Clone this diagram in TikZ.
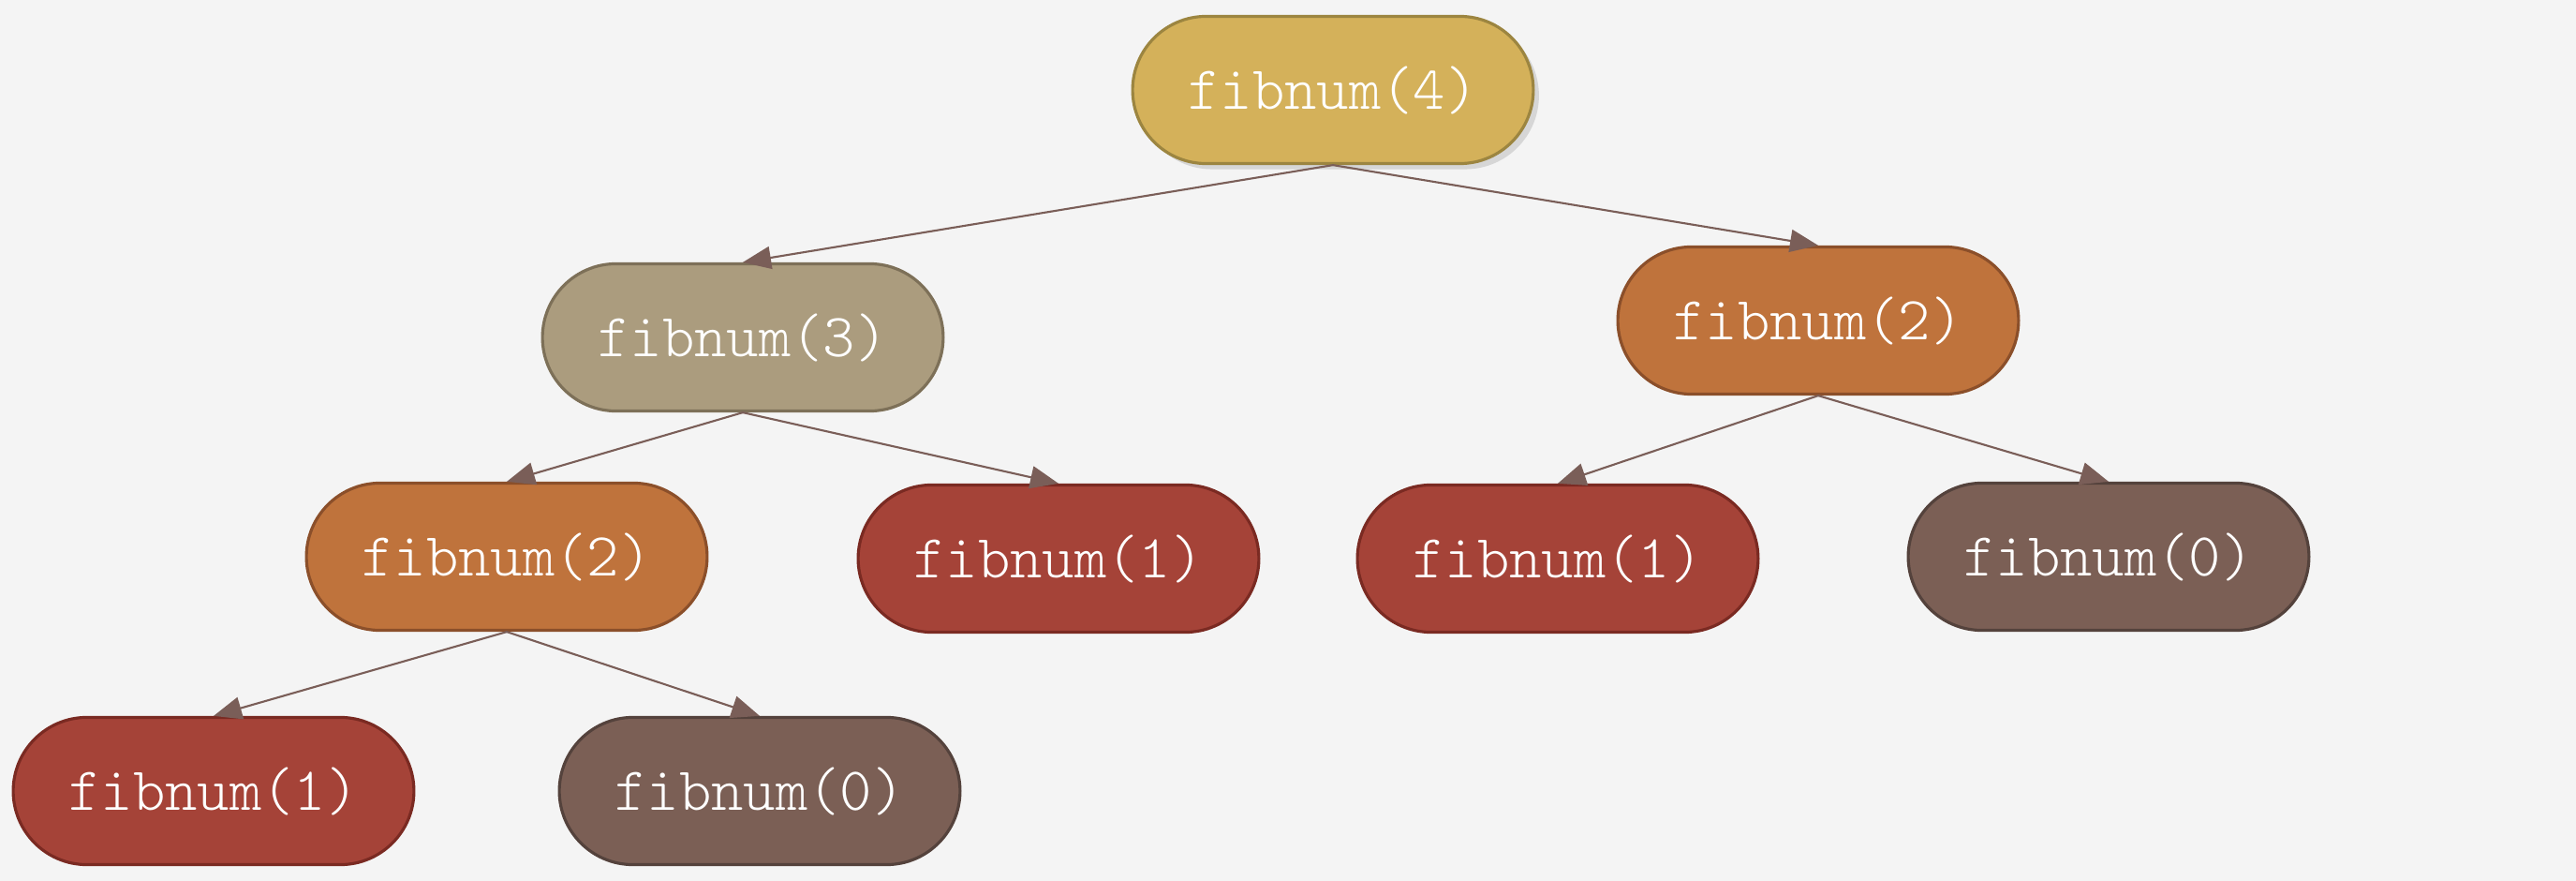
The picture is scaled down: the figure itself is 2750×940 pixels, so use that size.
\documentclass[tikz,border=0pt]{standalone}
\usepackage{fontspec}
\setmonofont{Latin Modern Mono Light}
\usepackage{tikz}
\usetikzlibrary{shapes.misc,arrows.meta,shadows,positioning}
\definecolor{bgc}{HTML}{F4F4F4}
\definecolor{gold}{HTML}{D4B15A}\definecolor{goldd}{HTML}{9C8540}
\definecolor{sand}{HTML}{AB9C7E}\definecolor{sandd}{HTML}{7D7058}
\definecolor{rust}{HTML}{BF733C}\definecolor{rustd}{HTML}{8B4F2A}
\definecolor{brick}{HTML}{A54338}\definecolor{brickd}{HTML}{7A2A22}
\definecolor{mud}{HTML}{7B5F55}\definecolor{mudd}{HTML}{54423C}
\definecolor{edgec}{HTML}{7A5E58}

\begin{document}
\begin{tikzpicture}[x=0.01cm,y=-0.01cm,
    f/.style={rounded rectangle,minimum width=4.51cm,minimum height=1.57cm,
      line width=0.9pt,text=white,font=\ttfamily\fontsize{18.6}{20}\selectfont},
    f4/.style={f,fill=gold,draw=goldd,drop shadow={opacity=0.25,shadow xshift=0.6mm,shadow yshift=-0.6mm}},
    f3/.style={f,fill=sand,draw=sandd},
    f2/.style={f,fill=rust,draw=rustd},
    f1/.style={f,fill=brick,draw=brickd},
    f0/.style={f,fill=mud,draw=mudd},
    e/.style={draw=edgec,line width=0.6pt,-{Triangle[length=3mm,width=2.4mm]}}]
    \fill[bgc] (0,0) rectangle (2750,940);
    \useasboundingbox (0,0) rectangle (2750,940);
    \node[f4] (n4) at (1423,96) {fibnum(4)};
    \node[f3] (n3) at (793,360) {fibnum(3)};
    \node[f2] (n2r) at (1941,342) {fibnum(2)};
    \node[f2] (n2l) at (541,594) {fibnum(2)};
    \node[f1] (n1m) at (1130,596) {fibnum(1)};
    \node[f1] (n1r) at (1663,596) {fibnum(1)};
    \node[f0] (n0r) at (2251,594) {fibnum(0)};
    \node[f1] (n1l) at (228,844) {fibnum(1)};
    \node[f0] (n0l) at (811,844) {fibnum(0)};
    \draw[e] (n4.south) -- (n3.north);
    \draw[e] (n4.south) -- (n2r.north);
    \draw[e] (n3.south) -- (n2l.north);
    \draw[e] (n3.south) -- (n1m.north);
    \draw[e] (n2r.south) -- (n1r.north);
    \draw[e] (n2r.south) -- (n0r.north);
    \draw[e] (n2l.south) -- (n1l.north);
    \draw[e] (n2l.south) -- (n0l.north);
\end{tikzpicture}
\end{document}
